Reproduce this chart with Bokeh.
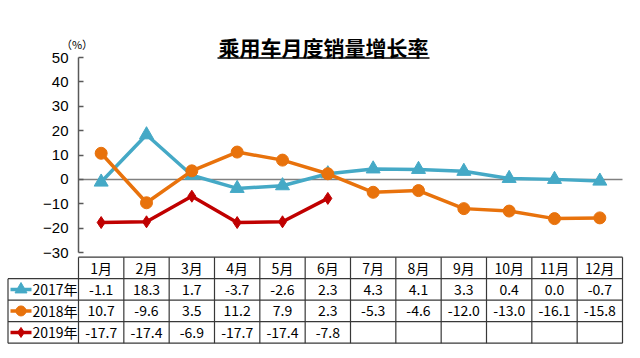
import numpy as np
from bokeh.plotting import figure
from bokeh.models import Range1d, Label, FixedTicker, ColumnDataSource, LinearAxis
from bokeh.core.properties import value
from bokeh.embed import file_html
from bokeh.resources import INLINE

months = ["1月", "2月", "3月", "4月", "5月", "6月", "7月", "8月", "9月", "10月", "11月", "12月"]
years = ["2017年", "2018年", "2019年"]
s2017 = [-1.1, 18.3, 1.7, -3.7, -2.6, 2.3, 4.3, 4.1, 3.3, 0.4, 0.0, -0.7]
s2018 = [10.7, -9.6, 3.5, 11.2, 7.9, 2.3, -5.3, -4.6, -12.0, -13.0, -16.1, -15.8]
s2019 = [-17.7, -17.4, -6.9, -17.7, -17.4, -7.8]
y_ticks = [-30, -20, -10, 0, 10, 20, 30, 40, 50]
title_text = "乘用车月度销量增长率"
unit_text = "（%）"

colors = ["#45A9C6", "#E8720C", "#C00000"]
series = [s2017, s2018, s2019]
markers = ["triangle", "circle", "diamond"]
msizes = [14, 12, 12]

CJK = "Noto Sans CJK SC"
LAT = "Liberation Sans"

# ---- page geometry (pixels) ----
W, H = 636, 348
ncat = len(months)
AX_X, RIGHT_X = 78, 622          # plot area left / right
TOP_Y, BOT_Y = 57, 252           # y of top tick / bottom tick
TB_TOP, ROW_H = 256.7, 21.5      # table top and row height
col_px = (RIGHT_X - AX_X) / ncat
k = (BOT_Y - TOP_Y) / (y_ticks[-1] - y_ticks[0])


def X(px):
    return (px - AX_X) / col_px


def Y(py):
    return y_ticks[-1] - (py - TOP_Y) / k


def T(py):
    return (len(years) + 1) - (py - TB_TOP) / ROW_H


p = figure(width=W, height=H, output_backend="svg", toolbar_location=None,
           x_range=Range1d(X(0), X(W)), y_range=Range1d(Y(H), Y(0)),
           x_axis_location=None, y_axis_location=None,
           min_border_left=0, min_border_right=0, min_border_top=0, min_border_bottom=0)
p.extra_y_ranges = {"tbl": Range1d(T(H), T(0))}
p.outline_line_color = None
p.grid.visible = False

ya = LinearAxis(fixed_location=0, bounds=(y_ticks[0], y_ticks[-1]), ticker=FixedTicker(ticks=y_ticks))
ya.major_label_overrides = {t: (str(t).replace("-", "−")) for t in y_ticks}
ya.axis_line_color = "#595959"
ya.axis_line_width = 1.5
ya.major_tick_line_color = "#595959"
ya.major_tick_line_width = 1.5
ya.major_tick_in = 5
ya.major_tick_out = 0
ya.minor_tick_line_color = None
ya.major_label_text_font = LAT
ya.major_label_text_font_size = "15px"
ya.major_label_text_color = "#000000"
ya.major_label_standoff = 10
p.add_layout(ya, "left")

# zero line
p.segment(x0=[0], y0=[0], x1=[ncat], y1=[0], line_color="#808080", line_width=1.5)

for s, c, m, ms in zip(series, colors, markers, msizes):
    xs = np.arange(len(s)) + 0.5
    src = ColumnDataSource(dict(x=xs, y=s))
    p.line("x", "y", source=src, line_color=c, line_width=3.5)
    p.scatter("x", "y", source=src, marker=m, size=ms, fill_color=c, line_color=c)

# title + underline
p.add_layout(Label(x=X(323), y=Y(46), text=title_text,
                   text_font=CJK, text_font_size="21px", text_font_style="bold",
                   text_align="center", text_baseline="middle", text_color="#000000"))
p.segment(x0=[X(217)], y0=[Y(57.5)], x1=[X(429)], y1=[Y(57.5)], line_color="#000000",
          line_width=1.5, level="overlay")
p.add_layout(Label(x=X(76.5), y=Y(43.5), text=unit_text,
                   text_font=CJK, text_font_size="11px",
                   text_align="center", text_baseline="middle", text_color="#000000"))

# ---- table ----
nrow = len(years)
x0 = X(7.5)
grid_col = "#383838"
hx0 = [0] + [x0] * (nrow + 1)
hy = [nrow + 1] + list(range(nrow, -1, -1))
p.segment(x0=hx0, y0=hy, x1=[ncat] * len(hy), y1=hy, line_color=grid_col, line_width=1.2,
          y_range_name="tbl")
vx = list(range(ncat + 1))
p.segment(x0=vx, y0=[0] * len(vx), x1=vx, y1=[nrow + 1] * len(vx), line_color=grid_col,
          line_width=1.2, y_range_name="tbl")
p.segment(x0=[x0], y0=[0], x1=[x0], y1=[nrow], line_color=grid_col, line_width=1.2,
          y_range_name="tbl")

cx = np.arange(ncat) + 0.5
p.text(x=cx, y=[nrow + 0.5] * ncat, text=months, text_font=value(CJK), text_font_size="14px",
       text_align="center", text_baseline="middle", text_color="#000000", y_range_name="tbl")

for r, (s, c, m, ms, yl) in enumerate(zip(series, colors, markers, msizes, years)):
    yrow = nrow - 1 - r + 0.5
    txt = [f"{v:.1f}" for v in s]
    p.text(x=cx[:len(s)], y=[yrow] * len(s), text=txt, text_font=value(CJK), text_font_size="14px",
           text_align="center", text_baseline="middle", text_color="#000000", y_range_name="tbl")
    p.segment(x0=[X(10)], y0=[yrow], x1=[X(31)], y1=[yrow], line_color=c, line_width=3.5,
              y_range_name="tbl")
    p.scatter(x=[X(20.5)], y=[yrow], marker=m, size=ms - 2, fill_color=c, line_color=c,
              y_range_name="tbl")
    p.text(x=[X(32)], y=[yrow], text=[yl], text_font=value(CJK), text_font_size="14px",
           text_align="left", text_baseline="middle", text_color="#000000", y_range_name="tbl")

open("out.html", "w").write(file_html(p, INLINE))
